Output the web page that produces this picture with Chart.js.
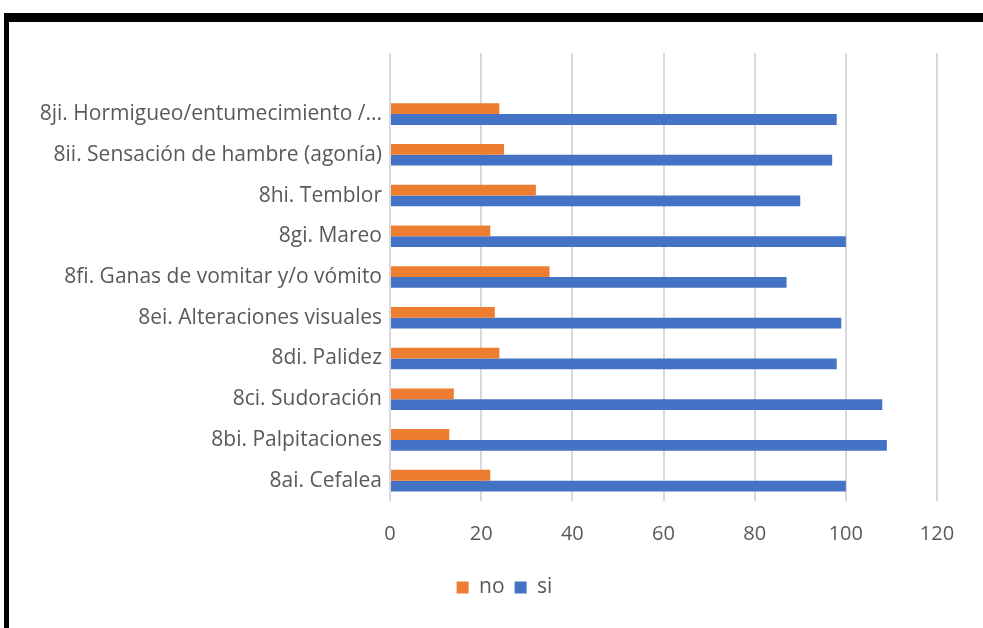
<!DOCTYPE html>
<html>
<head>
<meta charset="utf-8">
<script src="https://cdn.jsdelivr.net/npm/chart.js@4/dist/chart.umd.min.js"></script>
<style>
  html, body { margin: 0; padding: 0; background: #fff; }
  body { width: 983px; height: 628px; position: relative; overflow: hidden; }
  #marco {
    position: absolute; left: 4px; top: 13px; width: 990px; height: 611px;
    border-top: 9px solid #000; border-left: 5px solid #000;
    border-bottom: 2px solid #e3e3e3; box-sizing: content-box;
  }
  #grafico { position: absolute; left: 0; top: 0; }
</style>
</head>
<body>
<div id="marco"></div>
<canvas id="grafico" width="983" height="628"></canvas>
<script>
// Categorías (de arriba hacia abajo; la primera fila está vacía en el original)
const categorias = [
    '',
    '8ji. Hormigueo/entumecimiento /...',
    '8ii. Sensación de hambre (agonía)',
    '8hi. Temblor',
    '8gi. Mareo',
    '8fi. Ganas de vomitar y/o vómito',
    '8ei. Alteraciones visuales',
    '8di. Palidez',
    '8ci. Sudoración',
    '8bi. Palpitaciones',
    '8ai. Cefalea'
];

const valoresNo = [null, 24, 25, 32, 22, 35, 23, 24, 14, 13, 22];
const valoresSi = [null, 98, 97, 90, 100, 87, 99, 98, 108, 109, 100];

const ticksX = [0, 20, 40, 60, 80, 100, 120];

const colorTexto = '#595959';
const colorGrid = '#d9d9d9';
const fuenteEtiquetas = { family: "'Open Sans'", size: 21 };
const fuenteTicks = { family: "'Open Sans'", size: 20 };

// La leyenda de Excel queda un poco a la derecha del centro del lienzo
const desplazarLeyenda = {
    id: 'desplazarLeyenda',
    afterLayout(chart) {
        if (!chart.legend) return;
        chart.legend.left += 26;
        chart.legend.right += 26;
    }
};

const ctx = document.getElementById('grafico').getContext('2d');
new Chart(ctx, {
    type: 'bar',
    data: {
        labels: categorias,
        datasets: [
            { label: 'no', data: valoresNo, backgroundColor: '#ED7D31', borderWidth: 0 },
            { label: 'si', data: valoresSi, backgroundColor: '#4472C4', borderWidth: 0 }
        ]
    },
    options: {
        indexAxis: 'y',
        responsive: false,
        animation: false,
        categoryPercentage: 0.53,
        barPercentage: 1,
        layout: { padding: { top: 53, right: 46, bottom: 20, left: 20 } },
        scales: {
            x: {
                min: ticksX[0],
                max: ticksX[ticksX.length - 1],
                afterBuildTicks: axis => { axis.ticks = ticksX.map(v => ({ value: v })); },
                grid: { color: colorGrid, lineWidth: 2, drawTicks: false },
                border: { display: false },
                ticks: { color: colorTexto, padding: 21, font: fuenteTicks }
            },
            y: {
                grid: { display: false, drawTicks: false },
                border: { display: false },
                afterFit: axis => { axis.width = 370; },
                ticks: { color: colorTexto, padding: 8, autoSkip: false, font: fuenteEtiquetas }
            }
        },
        plugins: {
            legend: {
                position: 'bottom',
                labels: {
                    color: colorTexto,
                    boxWidth: 12,
                    boxHeight: 12,
                    padding: 10,
                    font: fuenteEtiquetas
                }
            },
            tooltip: { enabled: false }
        }
    },
    plugins: [desplazarLeyenda]
});
</script>
</body>
</html>
